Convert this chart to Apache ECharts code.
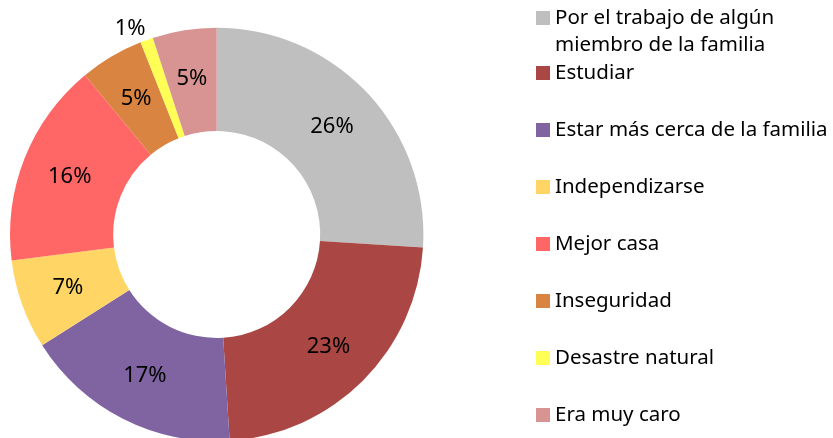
<!DOCTYPE html>
<html>
<head>
<meta charset="utf-8">
<script src="https://cdn.jsdelivr.net/npm/echarts@6/dist/echarts.min.js"></script>
<style>
  html, body { margin: 0; padding: 0; background: #fff; }
  #chart { width: 833px; height: 438px; }
</style>
</head>
<body>
<div id="chart"></div>
<script>
// razones de la mudanza
const categories = [
  'Por el trabajo de algún miembro de la familia',
  'Estudiar',
  'Estar más cerca de la familia',
  'Independizarse',
  'Mejor casa',
  'Inseguridad',
  'Desastre natural',
  'Era muy caro'
];
const values = [26, 23, 17, 7, 16, 5, 1, 5];
const colors = ['#BFBFBF', '#AA4643', '#8064A2', '#FFD565', '#FF6666', '#DA8442', '#FFFF55', '#D79493'];

const font = 'Noto Sans';
const chart = echarts.init(document.getElementById('chart'));

const data = categories.map(function (name, i) {
  let item = { name: name, value: values[i], itemStyle: { color: colors[i] } };
  if (name === 'Desastre natural') {
    // la etiqueta del 1% va fuera del anillo
    item.label = { offset: [-33, -57] };
  }
  return item;
});

const legendText = { fontFamily: font, fontSize: 20.5, color: '#000', lineHeight: 22 };

chart.setOption({
  animation: false,
  legend: [
    {
      orient: 'vertical',
      left: 536,
      top: 7,
      padding: 0,
      itemWidth: 14,
      itemHeight: 14,
      icon: 'rect',
      selectedMode: false,
      data: [categories[0]],
      formatter: function () { return 'Por el trabajo de algún'; },
      textStyle: legendText
    },
    {
      orient: 'vertical',
      left: 536,
      top: 62,
      padding: 0,
      itemWidth: 14,
      itemHeight: 14,
      itemGap: 35,
      icon: 'rect',
      selectedMode: false,
      data: categories.slice(1),
      textStyle: legendText
    }
  ],
  graphic: [{
    type: 'text',
    x: 555,
    y: 45,
    style: {
      text: 'miembro de la familia',
      font: '20.5px "' + font + '"',
      fill: '#000',
      verticalAlign: 'middle'
    }
  }],
  series: [{
    type: 'pie',
    center: [216.7, 234.5],
    radius: [103.5, 206.7],
    startAngle: 90,
    clockwise: true,
    avoidLabelOverlap: false,
    emphasis: { disabled: true },
    label: {
      show: true,
      position: 'inside',
      formatter: '{d}%',
      fontFamily: font,
      fontSize: 22,
      color: '#000'
    },
    labelLine: { show: false },
    data: data
  }]
});
</script>
</body>
</html>
